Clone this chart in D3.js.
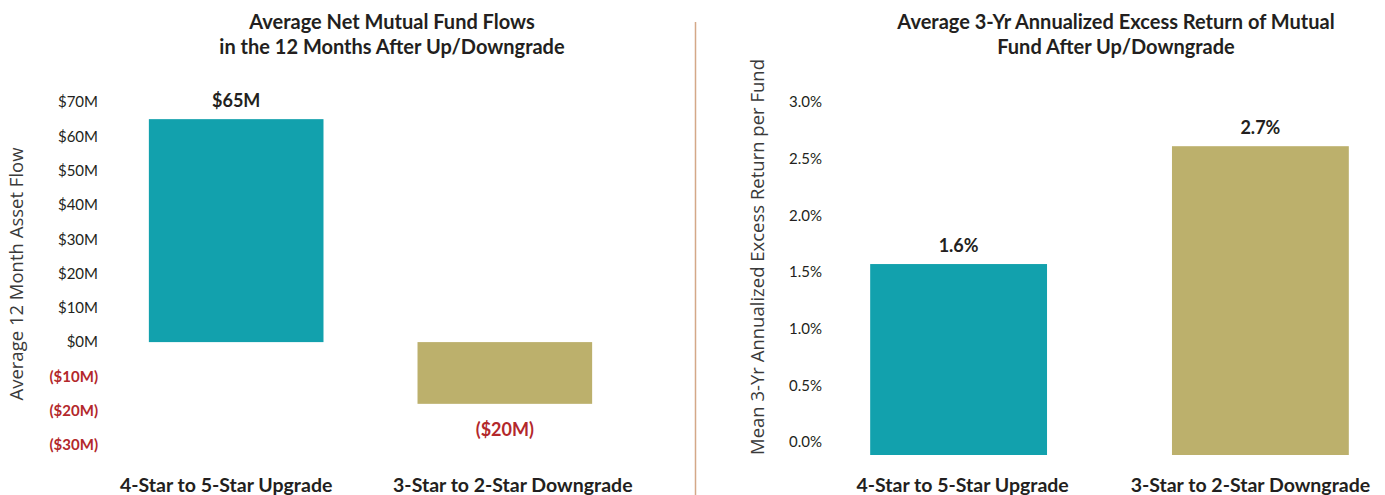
<!DOCTYPE html>
<html>
<head>
<meta charset="utf-8">
<script src="https://cdn.jsdelivr.net/npm/d3@7"></script>
<style>
body { margin: 0; background: #fff; }
svg text { font-family: Lato, "Open Sans", sans-serif; }
</style>
</head>
<body>
<div id="chart"></div>
<script>
// categories shared by both panels
const categories = ["4-Star to 5-Star Upgrade", "3-Star to 2-Star Downgrade"];
const barColors = ["#12a1ad", "#bcb06c"];

// left panel: flows in $M
const flowTitle = ["Average Net Mutual Fund Flows", "in the 12 Months After Up/Downgrade"];
const flowAxisTitle = "Average 12 Month Asset Flow";
const flowValues = [65, -18];
const flowLabels = ["$65M", "($20M)"];
const flowTicks = [-30, -20, -10, 0, 10, 20, 30, 40, 50, 60, 70];

// right panel: excess return in %
const returnTitle = ["Average 3-Yr Annualized Excess Return of Mutual", "Fund After Up/Downgrade"];
const returnAxisTitle = "Mean 3-Yr Annualized Excess Return per Fund";
const returnValues = [1.57, 2.61];
const returnLabels = ["1.6%", "2.7%"];
const returnTicks = [0, 0.5, 1.0, 1.5, 2.0, 2.5, 3.0];

const red = "#b3282b";
const dark = "#231f20";

const svg = d3.select("#chart")
	.append("svg")
	.attr("width", 1385)
	.attr("height", 495);

function drawPanel(opt)
{
	const g = svg.append("g");

	//title
	g.append("text")
	.attr("x", opt.titleX)
	.attr("y", 29)
	.attr("text-anchor", "middle")
	.style("font-size", "20px")
	.style("font-weight", "bold")
	.attr("fill", dark)
	.selectAll("tspan")
	.data(opt.title)
	.enter()
	.append("tspan")
	.attr("x", opt.titleX)
	.attr("dy", (d, i) => i ? 25 : 0)
	.text(d => d);

	const x = d3.scaleBand()
	.domain(categories)
	.range(opt.xRange)
	.paddingInner(opt.padding)
	.paddingOuter(0.1);

	const y = d3.scaleLinear()
	.domain(opt.yDomain)
	.range(opt.yRange);

	//y axis, labels only
	const yAxis = d3.axisLeft(y)
	.tickValues(opt.ticks)
	.tickFormat(opt.tickFormat)
	.tickSize(0)
	.tickPadding(0);

	const ax = g.append("g")
	.attr("transform", `translate(${opt.axisX},0)`)
	.call(yAxis);
	ax.select(".domain").remove();
	ax.selectAll("text")
	.style("font-family", "Lato, sans-serif")
	.style("font-size", "15px")
	.style("font-weight", d => d < 0 ? "bold" : "normal")
	.attr("fill", d => d < 0 ? red : dark);

	//axis title
	g.append("text")
	.attr("transform", `translate(${opt.axisTitleX},${opt.axisTitleY}) rotate(-90)`)
	.attr("text-anchor", "middle")
	.style("font-family", "'Open Sans', sans-serif")
	.style("font-size", opt.axisTitleSize)
	.attr("fill", "#3a3a3a")
	.text(opt.axisTitle);

	const base = opt.base(y);

	//bars
	g.selectAll("rect")
	.data(opt.values)
	.enter()
	.append("rect")
	.attr("x", (d, i) => x(categories[i]))
	.attr("width", x.bandwidth())
	.attr("y", d => Math.min(y(d), base))
	.attr("height", d => Math.abs(y(d) - base))
	.attr("fill", (d, i) => barColors[i]);

	//value labels
	g.selectAll(".val")
	.data(opt.values)
	.enter()
	.append("text")
	.attr("class", "val")
	.attr("x", (d, i) => x(categories[i]) + x.bandwidth() / 2)
	.attr("y", d => d < 0 ? y(d) + 32 : y(d) - 12)
	.attr("text-anchor", "middle")
	.style("font-size", "18px")
	.style("font-weight", "bold")
	.attr("fill", d => d < 0 ? red : dark)
	.text((d, i) => opt.labels[i]);

	//category labels
	g.selectAll(".cat")
	.data(categories)
	.enter()
	.append("text")
	.attr("class", "cat")
	.attr("x", d => x(d) + x.bandwidth() / 2 + opt.catShift[categories.indexOf(d)])
	.attr("y", 492)
	.attr("text-anchor", "middle")
	.style("font-size", "19.5px")
	.style("font-weight", "bold")
	.attr("fill", dark)
	.text(d => d);
}

drawPanel({
	title: flowTitle,
	titleX: 392,
	xRange: [122, 619],
	padding: 0.35,
	yDomain: [-30, 70],
	yRange: [445, 102],
	ticks: flowTicks,
	tickFormat: d => d < 0 ? `($${-d}M)` : `$${d}M`,
	axisX: 98,
	axisTitle: flowAxisTitle,
	axisTitleX: 23,
	axisTitleY: 274,
	axisTitleSize: "18.5px",
	values: flowValues,
	labels: flowLabels,
	base: y => y(0),
	catShift: [-10, 8]
});

drawPanel({
	title: returnTitle,
	titleX: 1116,
	xRange: [840, 1379],
	padding: 0.414,
	yDomain: [-0.115, 3.0],
	yRange: [455, 102],
	ticks: returnTicks,
	tickFormat: d => d3.format(".1f")(d) + "%",
	axisX: 822,
	axisTitle: returnAxisTitle,
	axisTitleX: 764,
	axisTitleY: 257,
	axisTitleSize: "18.5px",
	values: returnValues,
	labels: returnLabels,
	base: y => y.range()[0],
	catShift: [4, -10]
});

//divider between the panels
svg.append("line")
.attr("x1", 695.5).attr("x2", 695.5)
.attr("y1", 22).attr("y2", 495)
.attr("stroke", "#d4a888")
.attr("stroke-width", 1.5);
</script>
</body>
</html>
